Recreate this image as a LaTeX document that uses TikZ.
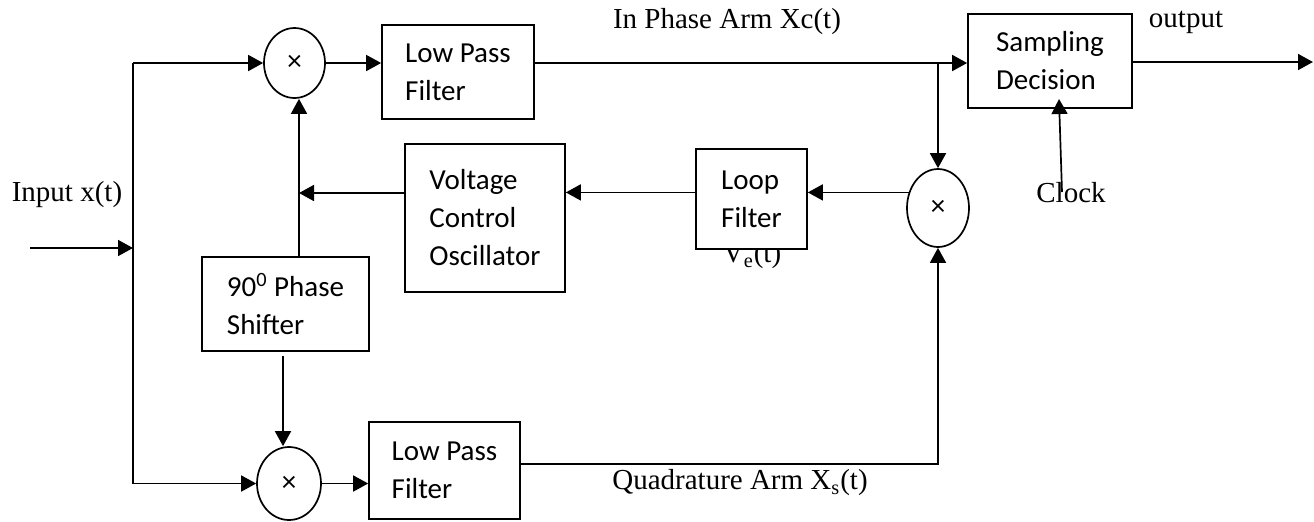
\documentclass[tikz,border=0pt]{standalone}
\usepackage{fontspec}
\setmainfont{Liberation Serif}
\newfontfamily\boxfont{Carlito}
\usetikzlibrary{arrows.meta,shapes.geometric}
\begin{document}
\begin{tikzpicture}[x=0.5pt,y=-0.5pt,
  line width=0.85pt,
  >={Triangle[length=7.5pt,width=8pt]},
  blk/.style={draw,fill=white,font=\boxfont\fontsize{14.5}{19}\selectfont,align=left,inner sep=0pt},
  mixer/.style={draw,ellipse,inner sep=0pt,font=\boxfont\fontsize{14.5}{17}\selectfont},
  lbl/.style={font=\fontsize{14.5}{17}\selectfont,inner sep=0pt}]
\useasboundingbox (0,0) rectangle (1314,521);

% labels drawn first (V_e(t) is partly hidden by the loop filter box)
\node[lbl] (ve) at (752,256) {V\textsubscript{e}(t)};
\node[lbl] (inph) at (727,22) {In Phase Arm Xc(t)};
\node[lbl] (outl) at (1186,22) {output};
\node[lbl] (inl) at (67,195) {Input x(t)};
\node[lbl] (quad) at (740,483) {Quadrature Arm X\textsubscript{s}(t)};
\node[lbl] (clk) at (1071,193) {Clock};

% blocks
\node[blk,minimum width=76pt,minimum height=47pt] (lpf1) at (458,72) {Low Pass\\Filter};
\node[blk,minimum width=80pt,minimum height=74pt] (vco) at (485,218) {Voltage\\Control\\Oscillator};
\node[blk,minimum width=83.5pt,minimum height=47pt] (ps) at (285.5,304) {90\textsuperscript{0} Phase\\Shifter};
\node[blk,minimum width=75.5pt,minimum height=48.5pt] (lpf2) at (444.5,470.5) {Low Pass\\Filter};
\node[blk,minimum width=82pt,minimum height=47pt] (samp) at (1050,61) {Sampling\\Decision};
\node[blk,minimum width=55.5pt,minimum height=50pt] (loop) at (751.5,199) {Loop\\Filter};

% mixers
\node[mixer,minimum width=30.5pt,minimum height=35pt] (mix1) at (294.5,63) {×};
\node[mixer,minimum width=32pt,minimum height=36.5pt] (mix2) at (289,483.5) {×};
\node[mixer,minimum width=31pt,minimum height=39pt] (mix3) at (938,208) {×};

% helper coordinates
\coordinate (in) at (30,248);
\coordinate (split) at (133,248);
\coordinate (vtap) at (299,193);
\coordinate (pd) at (283,356);
\coordinate (out) at (1313,62);
\coordinate (clktail) at (1062,192);
\coordinate (clkhead) at (1059,99);
\coordinate (q) at (938,464);

% input and splitting
\draw[->] (in) -- (split);
\draw (split |- mix1.west) -- (split |- mix2.west);
\draw[->] (split |- mix1.west) -- (mix1.west);
\draw[->] (split |- mix2.west) -- (mix2.west);

% in-phase arm
\draw[->] (mix1.east) -- (mix1.east -| lpf1.west);
\draw[->] (lpf1.east |- mix1.east) -- (samp.west |- mix1.east);
\draw[->] (mix1.east -| mix3.north) -- (mix3.north);
\draw[->] (samp.east |- out) -- (out);
\draw[->] (clktail) -- (clkhead);

% loop
\draw[->] (mix3.152) -- (mix3.152 -| loop.east);
\draw[->] (loop.west |- mix3.152) -- (vco.east |- mix3.152);
\draw[->] (vco.west |- vtap) -- (vtap);
\draw[->] (ps.north -| vtap) -- (mix1.south -| vtap);
\draw[->] (pd) -- (pd |- mix2.north);

% quadrature arm
\draw[->] (mix2.east) -- (mix2.east -| lpf2.west);
\draw[->] (lpf2.east |- q) -- (q) -- (mix3.south);
\end{tikzpicture}
\end{document}
